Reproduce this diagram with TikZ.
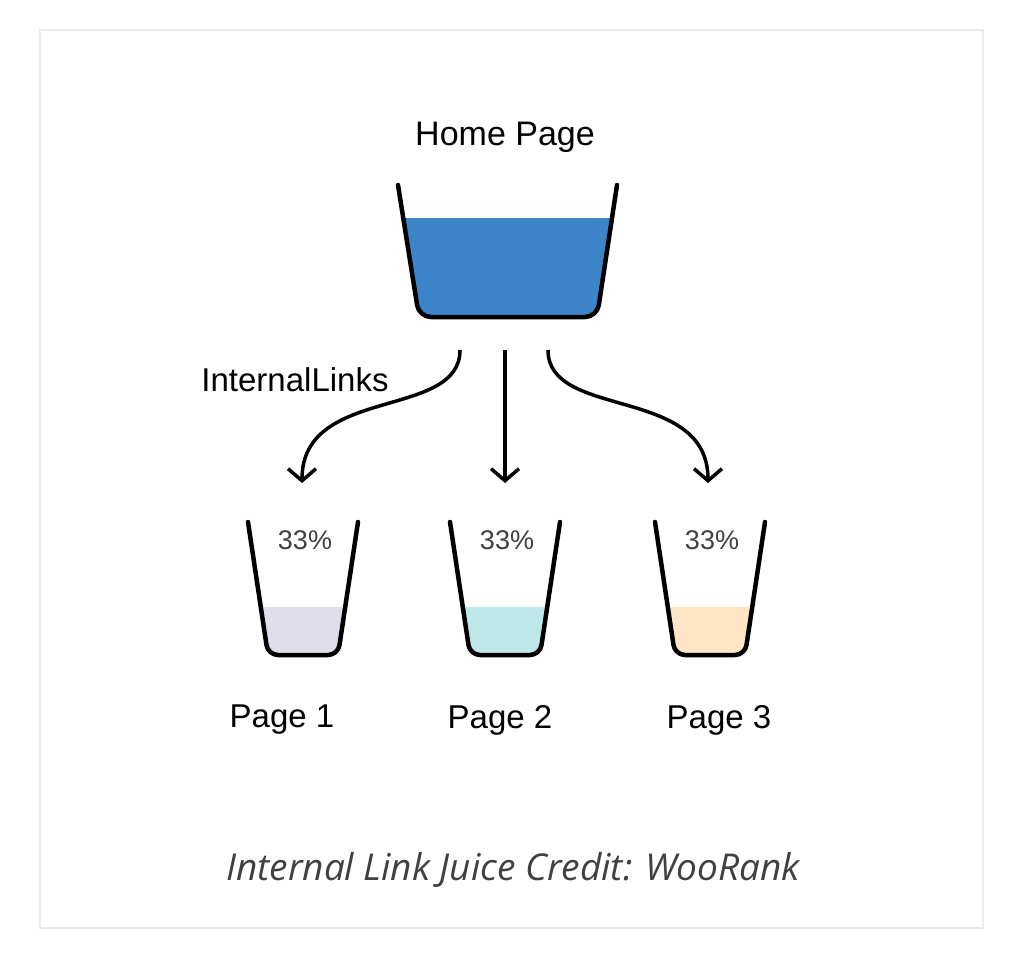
\documentclass[tikz,border=0pt]{standalone}
\usepackage{fontspec}
\setmainfont{Liberation Sans}
\newfontfamily\capfont{Open Sans}
\usetikzlibrary{arrows.meta}
\definecolor{water}{HTML}{3D85C9}
\definecolor{lav}{HTML}{E1DEEC}
\definecolor{cyn}{HTML}{BEE7E7}
\definecolor{pch}{HTML}{FDE5C6}
\begin{document}
\begin{tikzpicture}[x=1pt,y=-1pt,
  cup/.style={line width=4.5pt,line cap=round,line join=round,rounded corners=12pt},
  lbl/.style={font=\fontsize{33}{38}\selectfont,text=black},
  pct/.style={font=\fontsize{27}{30}\selectfont,text=black!75},
  link/.style={line width=3.5pt,-{Straight Barb[length=12pt,width=28pt,line width=3.5pt]}}]
\useasboundingbox (0,0) rectangle (1024,956);
\fill[white] (0,0) rectangle (1024,956);
\draw[black!8,line width=1.2pt] (40,30) rectangle (983,928);
% home bucket
\begin{scope}
\clip[rounded corners=12pt] (398,185) -- (419,317) -- (597,317) -- (617,185) -- cycle;
\fill[water] (380,218) rectangle (640,330);
\end{scope}
\draw[cup] (398,185) -- (419,317) -- (597,317) -- (617,185);
\node[lbl,font=\fontsize{34}{38}\selectfont] (home) at (505,137) {Home Page};
% small cups
\foreach \cx/\col/\n/\lx in {303/lav/1/282,505/cyn/2/500,710/pch/3/719}{
  \begin{scope}
  \clip[rounded corners=10pt] (\cx-55,522) -- (\cx-35,655) -- (\cx+35,655) -- (\cx+55,522) -- cycle;
  \fill[\col] (\cx-60,607) rectangle (\cx+60,670);
  \end{scope}
  \draw[cup,rounded corners=10pt] (\cx-55,522) -- (\cx-35,655) -- (\cx+35,655) -- (\cx+55,522);
  \node[pct] (p\n) at (\cx+2,540) {33\%};
  \node[lbl] (pg\n) at (\lx,720) {Page \n};
}
\coordinate (s1) at (460,350); \coordinate (s2) at (505,350); \coordinate (s3) at (548,350);
\coordinate (e1) at (302,483); \coordinate (e2) at (505,483); \coordinate (e3) at (708,483);
\draw[link] (s1) .. controls (460,420) and (302,385) .. (e1);
\draw[link] (s2) -- (e2);
\draw[link] (s3) .. controls (548,420) and (708,385) .. (e3);
\node[lbl] (il) at (295,380) {InternalLinks};
\node[font=\capfont\itshape\fontsize{37}{42}\selectfont,text=black!75] (cap) at (513,870) {Internal Link Juice Credit: WooRank};
\end{tikzpicture}
\end{document}
